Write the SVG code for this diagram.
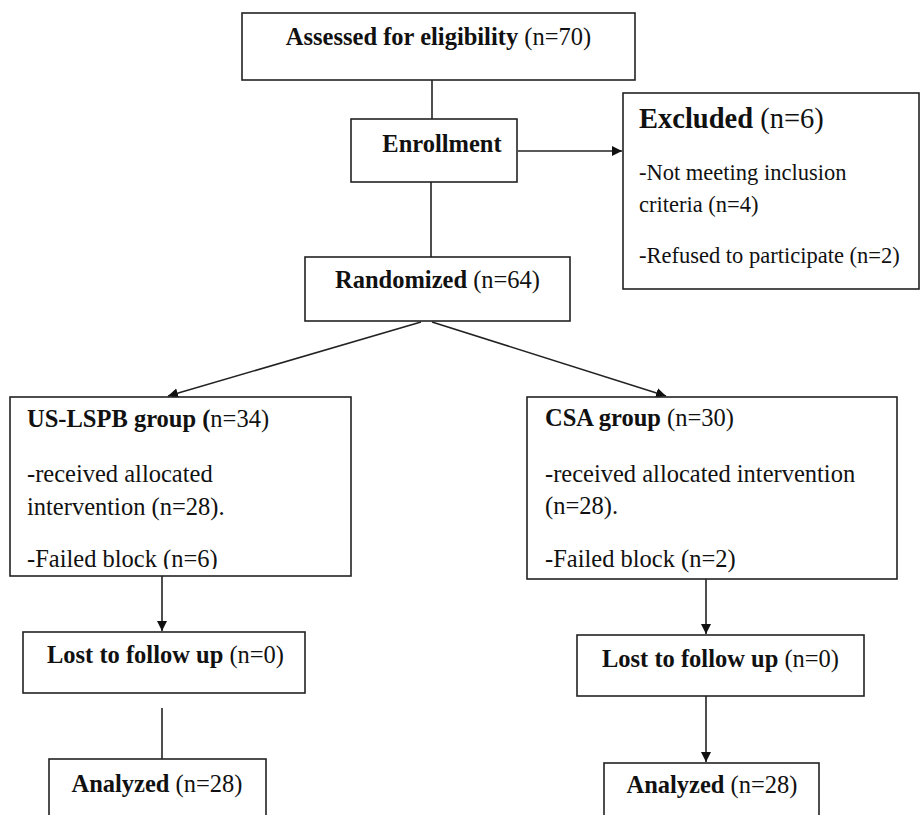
<svg xmlns="http://www.w3.org/2000/svg" width="920" height="815" viewBox="0 0 920 815">
  <style>
    .box { fill: #ffffff; stroke: #222222; stroke-width: 1.6; }
    .conn { fill: none; stroke: #222222; stroke-width: 1.6; }
    text { font-family: "Liberation Serif", "Times New Roman", serif; fill: #111111; }
    .h { font-size: 24.5px; }
    .b { font-weight: bold; }
    .body { font-size: 24.5px; }
    .ex { font-size: 22.5px; }
    .exh { font-size: 28.5px; }
  </style>
  <defs>
    <marker id="arrow" markerUnits="userSpaceOnUse" markerWidth="11" markerHeight="11" refX="10" refY="5" orient="auto">
      <path d="M0,0 L10,5 L0,10 z" fill="#111111"/>
    </marker>
    <clipPath id="clipLeft">
      <rect x="10" y="397" width="341" height="172"/>
    </clipPath>
  </defs>
  <rect x="0" y="0" width="920" height="815" fill="#ffffff"/>

  <g id="connectors">
    <line class="conn" x1="432" y1="80" x2="432" y2="119"/>
    <line class="conn" x1="518" y1="151" x2="622" y2="151" marker-end="url(#arrow)"/>
    <line class="conn" x1="431" y1="182" x2="431" y2="257"/>
    <line class="conn" x1="421" y1="322" x2="168" y2="396" marker-end="url(#arrow)"/>
    <line class="conn" x1="432" y1="322" x2="666" y2="396" marker-end="url(#arrow)"/>
    <line class="conn" x1="162" y1="576" x2="162" y2="631" marker-end="url(#arrow)"/>
    <line class="conn" x1="162" y1="708" x2="162" y2="759"/>
    <line class="conn" x1="706" y1="579" x2="706" y2="634" marker-end="url(#arrow)"/>
    <line class="conn" x1="706" y1="696" x2="706" y2="762" marker-end="url(#arrow)"/>
  </g>

  <g id="assessed">
    <rect class="box" x="242" y="13" width="393" height="67"/>
    <text class="h" x="438.5" y="45" text-anchor="middle"><tspan class="b">Assessed for eligibility</tspan> (n=70)</text>
  </g>

  <g id="enrollment">
    <rect class="box" x="351" y="119" width="166" height="63"/>
    <text class="h b" x="442" y="152" text-anchor="middle">Enrollment</text>
  </g>

  <g id="excluded">
    <rect class="box" x="623" y="93" width="296" height="196"/>
    <text class="exh" x="639" y="128"><tspan class="b">Excluded</tspan> (n=6)</text>
    <text class="ex" x="639" y="180">-Not meeting inclusion</text>
    <text class="ex" x="639" y="212">criteria (n=4)</text>
    <text class="ex" x="639" y="263">-Refused to participate (n=2)</text>
  </g>

  <g id="randomized">
    <rect class="box" x="305" y="257" width="265" height="64"/>
    <text class="h" x="437.5" y="288" text-anchor="middle"><tspan class="b">Randomized</tspan> (n=64)</text>
  </g>

  <g id="us-lspb">
    <rect class="box" x="10" y="397" width="341" height="179"/>
    <text class="body" x="27" y="427"><tspan class="b">US-LSPB group (</tspan>n=34)</text>
    <text class="body" x="27" y="482">-received allocated</text>
    <text class="body" x="27" y="515">intervention (n=28).</text>
    <text class="body" x="27" y="567" clip-path="url(#clipLeft)">-Failed block (n=6)</text>
  </g>

  <g id="csa">
    <rect class="box" x="527" y="397" width="370" height="182"/>
    <text class="body" x="545" y="426"><tspan class="b">CSA group</tspan> (n=30)</text>
    <text class="body" x="545" y="482">-received allocated intervention</text>
    <text class="body" x="545" y="514">(n=28).</text>
    <text class="body" x="545" y="567">-Failed block (n=2)</text>
  </g>

  <g id="lost-left">
    <rect class="box" x="23" y="632" width="282" height="61"/>
    <text class="h" x="165.5" y="663" text-anchor="middle"><tspan class="b">Lost to follow up</tspan> (n=0)</text>
  </g>

  <g id="lost-right">
    <rect class="box" x="577" y="635" width="287" height="61"/>
    <text class="h" x="720.5" y="667" text-anchor="middle"><tspan class="b">Lost to follow up</tspan> (n=0)</text>
  </g>

  <g id="analyzed-left">
    <rect class="box" x="49" y="759" width="217" height="80"/>
    <text class="h" x="157" y="792" text-anchor="middle"><tspan class="b">Analyzed</tspan> (n=28)</text>
  </g>

  <g id="analyzed-right">
    <rect class="box" x="604" y="763" width="215" height="80"/>
    <text class="h" x="712" y="793" text-anchor="middle"><tspan class="b">Analyzed</tspan> (n=28)</text>
  </g>
</svg>
